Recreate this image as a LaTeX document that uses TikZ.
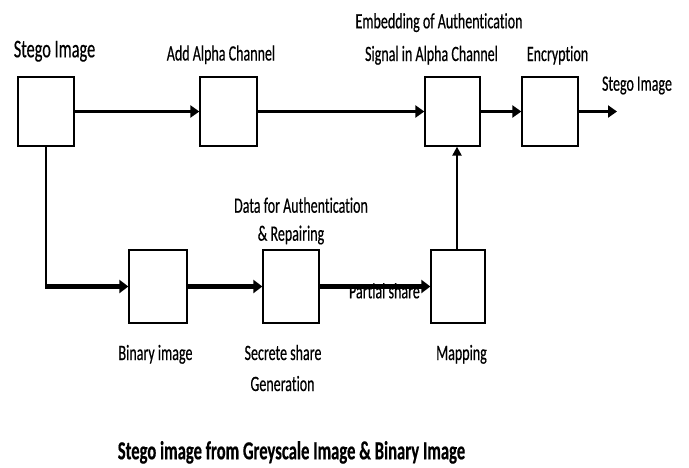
\documentclass[tikz,border=0pt]{standalone}
\usepackage{fontspec}
\setmainfont{Carlito}[FakeStretch=0.64, Ligatures=NoCommon, FakeBold=0.4]
\usetikzlibrary{arrows.meta}
\tikzset{
  box/.style={draw=black, line width=1.3pt, fill=white, inner sep=0pt, minimum width=56pt, minimum height=69pt},
  lbox/.style={box, minimum height=73pt},
  lbl/.style={inner sep=0pt, anchor=base, font=\fontsize{21.9pt}{24pt}\selectfont},
  biglbl/.style={lbl, font=\fontsize{25.5pt}{28pt}\selectfont},
  captext/.style={lbl, font=\fontsize{26pt}{28pt}\selectfont\bfseries},
  uarr/.style={line width=3.8pt, -{Triangle[length=9pt,width=12pt]}},
  larr/.style={line width=5pt, -{Triangle[length=9pt,width=13pt]}},
  thinline/.style={line width=1.8pt},
  varr/.style={line width=2.2pt, -{Triangle[length=9pt,width=9pt]}}
}
\begin{document}
\begin{tikzpicture}[x=1pt,y=-1pt]
\useasboundingbox (0,0) rectangle (689,467);
\fill[white] (0,0) rectangle (689,467);
% boxes
\node[box] (b1) at (46,111.5) {};
\node[box, minimum width=57pt] (b2) at (228.5,111.5) {};
\node[box, minimum width=55pt] (b3) at (452.5,111.5) {};
\node[box] (b4) at (550,111.5) {};
\node[lbox, minimum width=58pt] (b5) at (158,286.5) {};
\node[lbox] (b6) at (291,286.5) {};
\node[lbox, minimum width=54pt] (b7) at (458,286.5) {};
\coordinate (out) at (617,111.5);
\coordinate (corner) at (b1.south |- b5.west);
% labels
\node[biglbl] (t1) at (54.5,57.3) {Stego Image};
\node[lbl] (t2) at (221,60.5) {Add Alpha Channel};
\node[lbl] (t3a) at (439,28.3) {Embedding of Authentication};
\node[lbl] (t3b) at (431.5,61) {Signal in Alpha Channel};
\node[lbl] (t4) at (557.5,61) {Encryption};
\node[lbl] (t5) at (637,90.7) {Stego Image};
\node[lbl] (t6a) at (301,212.7) {Data for Authentication};
\node[lbl] (t6b) at (291,240.7) {\& Repairing};
\node[lbl] (t7) at (155.5,360) {Binary image};
\node[lbl] (t8a) at (283,360) {Secrete share};
\node[lbl] (t8b) at (282.5,391) {Generation};
\node[lbl] (t9) at (461.5,360) {Mapping};
\node[lbl, anchor=base east] (t10) at (420,298.3) {Partial share};
\node[captext] (t11) at (291.5,459.3) {Stego image from Greyscale Image \& Binary Image};
% connectors
\draw[uarr] (b1.east) -- (b2.west);
\draw[uarr] (b2.east) -- (b3.west);
\draw[uarr] (b3.east) -- (b4.west);
\draw[uarr] (b4.east) -- (out);
\draw[thinline] (b1.south) -- (corner);
\draw[larr] ([xshift=-0.9pt]corner) -- (b5.west);
\draw[larr] (b5.east) -- (b6.west);
\draw[larr] (b6.east) -- (b7.west);
\draw[varr] ([xshift=-1pt]b7.north) -- ([xshift=-1pt]b7.north |- b3.south);
\end{tikzpicture}
\end{document}
